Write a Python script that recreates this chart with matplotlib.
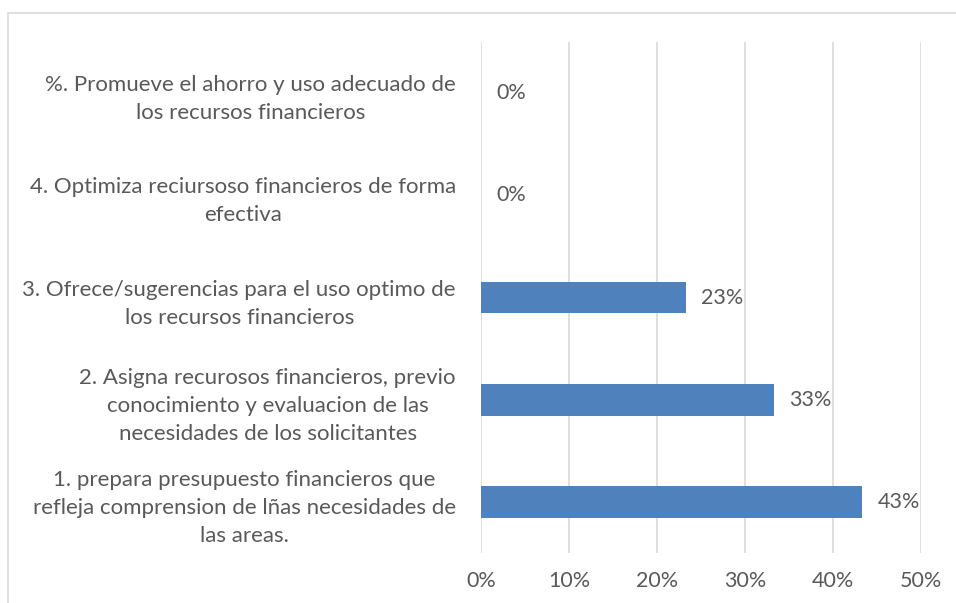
import matplotlib.pyplot as plt
from matplotlib.patches import Rectangle
from matplotlib.ticker import PercentFormatter

# data, bottom to top as drawn
categories = [
    "1. prepara presupuesto financieros que\nrefleja comprension de lñas necesidades de\nlas areas.",
    "2. Asigna recurosos financieros, previo\nconocimiento y evaluacion de las\nnecesidades de los solicitantes",
    "3. Ofrece/sugerencias para el uso optimo de\nlos recursos financieros",
    "4. Optimiza reciursoso financieros de forma\nefectiva",
    "%. Promueve el ahorro y uso adecuado de\nlos recursos financieros",
]
values = [0.433, 0.333, 0.233, 0.0, 0.0]
value_labels = ["43%", "33%", "23%", "0%", "0%"]
x_ticks = [0.0, 0.1, 0.2, 0.3, 0.4, 0.5]

text_color = "#595959"
grid_color = "#D9D9D9"
bar_color = "#4F81BD"

plt.rcParams['font.family'] = ['Lato', 'DejaVu Sans']

fig = plt.figure(figsize=(9.56, 6.03), dpi=100)
ax = fig.add_axes([481 / 956, 1 - 553 / 603, 440 / 956, 511 / 603])

# outer chart frame (top and left edges visible)
fig.patches.append(Rectangle((8 / 956, -0.1), 1.1, 1 - 13 / 603 + 0.1,
                             transform=fig.transFigure, fill=False,
                             edgecolor=grid_color, linewidth=1.2))

pos = range(len(categories))
ax.barh(pos, values, height=0.31, color=bar_color, linewidth=0, zorder=3)

for p, v, lab in zip(pos, values, value_labels):
    ax.annotate(lab, (v, p), xytext=(11, 0), textcoords="offset points",
                va="center", ha="left", fontsize=15.5, color=text_color)

ax.set_xlim(0, 0.5)
ax.set_ylim(-0.5, len(categories) - 0.5)
ax.set_xticks(x_ticks)
ax.xaxis.set_major_formatter(PercentFormatter(1.0, decimals=0))
ax.set_yticks(list(pos))
ax.set_yticklabels(categories, multialignment="center", fontsize=16,
                   color=text_color, linespacing=1.5)
ax.tick_params(axis="y", length=0, pad=18)
ax.tick_params(axis="x", length=0, pad=13, labelsize=15.5, labelcolor=text_color)

ax.grid(axis="x", color=grid_color, linewidth=1.2, zorder=0)
for s in ax.spines.values():
    s.set_visible(False)

fig.savefig("out.png", dpi=100)
